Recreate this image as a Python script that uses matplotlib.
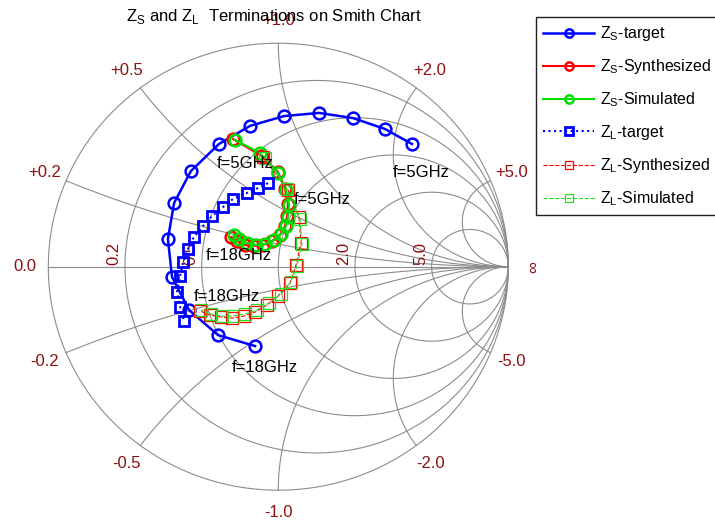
import numpy as np
import matplotlib.pyplot as plt

plt.rcParams['font.family'] = ['Liberation Sans', 'DejaVu Sans']

zs_target_re = [0.581, 0.464, 0.325, 0.177, 0.025, -0.123, -0.258, -0.380, -0.453, -0.480, -0.462, -0.388, -0.262, -0.101]
zs_target_im = [0.549, 0.616, 0.665, 0.688, 0.674, 0.630, 0.549, 0.428, 0.285, 0.124, -0.046, -0.194, -0.306, -0.355]

zs_synth_re = [-0.197, -0.071, -0.001, 0.029, 0.042, 0.038, 0.029, 0.007, -0.027, -0.067, -0.106, -0.145, -0.180, -0.206]
zs_synth_im = [0.571, 0.495, 0.424, 0.348, 0.281, 0.227, 0.182, 0.142, 0.115, 0.097, 0.093, 0.097, 0.115, 0.133]

zs_sim_re = [-0.188, -0.080, -0.001, 0.033, 0.047, 0.042, 0.033, 0.012, -0.019, -0.058, -0.097, -0.136, -0.171, -0.193]
zs_sim_im = [0.567, 0.509, 0.419, 0.343, 0.276, 0.222, 0.182, 0.146, 0.119, 0.102, 0.097, 0.106, 0.124, 0.142]

zl_target_re = [-0.045, -0.088, -0.136, -0.197, -0.240, -0.288, -0.327, -0.367, -0.393, -0.414, -0.427, -0.440, -0.427, -0.410]
zl_target_im = [0.374, 0.352, 0.330, 0.303, 0.267, 0.227, 0.182, 0.133, 0.079, 0.021, -0.042, -0.113, -0.180, -0.243]

zl_synth_re = [-0.067, 0.042, 0.090, 0.099, 0.077, 0.051, -0.001, -0.049, -0.101, -0.149, -0.201, -0.249, -0.297, -0.340]
zl_synth_im = [0.491, 0.343, 0.222, 0.106, 0.008, -0.073, -0.131, -0.171, -0.203, -0.221, -0.230, -0.225, -0.216, -0.198]

zl_sim_re = [-0.058, 0.038, 0.094, 0.103, 0.081, 0.055, 0.012, -0.040, -0.093, -0.145, -0.197, -0.245, -0.292, -0.336]
zl_sim_im = [0.486, 0.347, 0.213, 0.101, 0.003, -0.068, -0.122, -0.162, -0.194, -0.212, -0.221, -0.221, -0.212, -0.194]

# smith chart grid values
r_grid = [0.2, 0.5, 1.0, 2.0, 5.0]
r_labels = ['0.2', '0.5', '', '2.0', '5.0']
x_grid = [0.2, 0.5, 1.0, 2.0, 5.0]

grid_col = '#8c8c8c'
lab_col = '#8b1010'

fig = plt.figure(figsize=(7.15, 5.25), dpi=100)
ax = fig.add_axes([0, 0, 1, 1])
ax.set_xlim(-278.3 / 230, (715 - 278.3) / 230)
ax.set_ylim((266.7 - 525) / 223.5, 266.7 / 223.5)
ax.axis('off')

t = np.linspace(0, 2 * np.pi, 500)
ax.plot(np.cos(t), np.sin(t), color=grid_col, lw=0.8, zorder=1)
ax.plot([-1, 1], [0, 0], color=grid_col, lw=0.8, zorder=1)
for r in r_grid:
    c = r / (1 + r)
    rad = 1 / (1 + r)
    ax.plot(c + rad * np.cos(t), rad * np.sin(t), color=grid_col, lw=0.8, zorder=1)

rr = np.concatenate([[0], np.logspace(-3, 4, 600)])
for x in x_grid:
    for s in (1, -1):
        g = (rr + 1j * s * x - 1) / (rr + 1j * s * x + 1)
        ax.plot(g.real, g.imag, color=grid_col, lw=0.8, zorder=1)
        g0 = (1j * s * x - 1) / (1j * s * x + 1)
        ax.text(1.1 * g0.real, 1.1 * g0.imag, f'{s * x:+.1f}', color=lab_col,
                fontsize=12, ha='center', va='center')

ax.text(-1.1, 0, '0.0', color=lab_col, fontsize=12, ha='center', va='center')
ax.text(1.11, 0, '\u221e', color=lab_col, fontsize=12, ha='center', va='center',
        rotation=90)

for r, lab in zip(r_grid, r_labels):
    if lab:
        ax.annotate(lab, ((r - 1) / (r + 1), 0), xytext=(-11, 2),
                    textcoords='offset pixels', rotation=90, color=lab_col,
                    fontsize=12, ha='center', va='bottom')

# data
ax.plot(zs_target_re, zs_target_im, '-o', color='b', lw=1.8, ms=8.5, mew=1.8,
        mfc='none', label=r'Z$_\mathregular{S}$-target', zorder=3)
ax.plot(zs_synth_re, zs_synth_im, '-o', color='r', lw=1.5, ms=8.5, mew=1.8,
        mfc='none', label=r'Z$_\mathregular{S}$-Synthesized', zorder=3)
ax.plot(zs_sim_re, zs_sim_im, '-o', color='#00dd00', lw=1.5, ms=8.5, mew=1.8,
        mfc='none', label=r'Z$_\mathregular{S}$-Simulated', zorder=3)
ax.plot(zl_target_re, zl_target_im, ':s', color='b', lw=1.5, ms=7.5, mew=2,
        mfc='none', label=r'Z$_\mathregular{L}$-target', zorder=3)
ax.plot(zl_synth_re, zl_synth_im, '--s', color='r', lw=0.8, ms=8.5, mew=0.9,
        mfc='none', label=r'Z$_\mathregular{L}$-Synthesized', zorder=3)
ax.plot(zl_sim_re, zl_sim_im, '--s', color='#22dd22', lw=0.8, ms=8.5, mew=0.9,
        mfc='none', label=r'Z$_\mathregular{L}$-Simulated', zorder=3)

# frequency markers
ann = dict(textcoords='offset pixels', ha='center', va='center', fontsize=12, zorder=4)
ax.annotate('f=5GHz', (zs_target_re[0], zs_target_im[0]), xytext=(9, -29), **ann)
ax.annotate('f=18GHz', (zs_target_re[-1], zs_target_im[-1]), xytext=(10, -21), **ann)
ax.annotate('f=5GHz', (zs_sim_re[0], zs_sim_im[0]), xytext=(10, -24), **ann)
ax.annotate('f=18GHz', (zs_sim_re[-1], zs_sim_im[-1]), xytext=(5, -21), **ann)
ax.annotate('f=5GHz', (zl_target_re[0], zl_target_im[0]), xytext=(54, -16), **ann)
ax.annotate('f=18GHz', (zl_target_re[-1], zl_target_im[-1]), xytext=(43, 25), **ann)

fig.text(274 / 715, 1 - 16 / 525,
         r'Z$_\mathregular{S}$ and Z$_\mathregular{L}$  Terminations on Smith Chart',
         ha='center', va='center', fontsize=12)

leg = fig.legend(loc='upper left', bbox_to_anchor=(536 / 715, 1 - 17 / 525),
                 fontsize=11.5, handlelength=3.2, handletextpad=0.35, borderpad=0.45,
                 labelspacing=0.88, markerscale=0.7, fancybox=False,
                 edgecolor='#202020', framealpha=1, borderaxespad=0)
leg.get_frame().set_linewidth(1.0)

fig.savefig('out.png', dpi=100)
